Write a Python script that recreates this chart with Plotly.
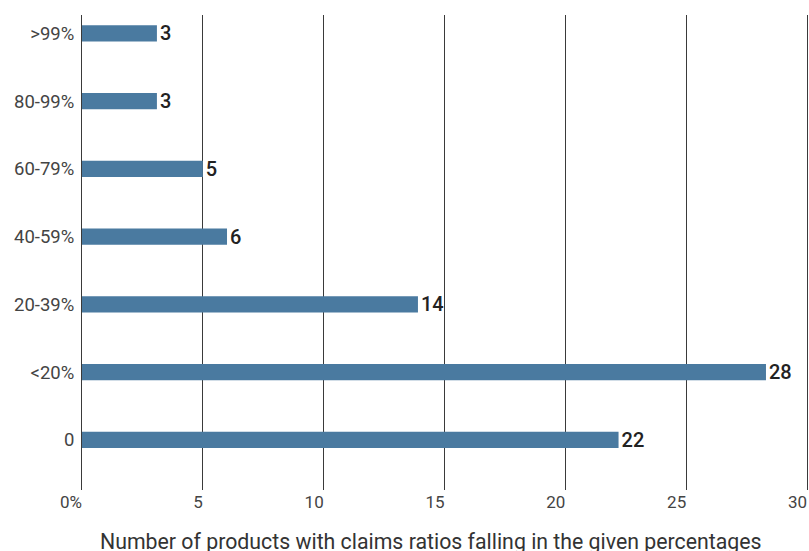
import plotly.graph_objects as go

categories = ["0", "<20%", "20-39%", "40-59%", "60-79%", "80-99%", ">99%"]
values = [22.2, 28.3, 13.9, 6.0, 5.0, 3.1, 3.1]
value_labels = ["22", "28", "14", "6", "5", "3", "3"]
x_tick_vals = [0, 5, 10, 15, 20, 25, 30]
x_tick_text = ["0%", "5", "10", "15", "20", "25", "30"]
x_title = "Number of products with claims ratios falling in the given percentages"

fig = go.Figure(
    go.Bar(
        x=values,
        y=categories,
        orientation="h",
        width=0.24,
        marker=dict(color="#4a7aa0", line=dict(width=0)),
        text=value_labels,
        textposition="outside",
        constraintext="none",
        cliponaxis=False,
        textfont=dict(family="Roboto", size=20, color="#222222", weight=500),
    )
)

fig.update_layout(
    width=809,
    height=551,
    margin=dict(l=82, r=0, t=15, b=61, autoexpand=False),
    plot_bgcolor="white",
    paper_bgcolor="white",
    showlegend=False,
    font=dict(family="Roboto", color="#444444"),
    xaxis=dict(
        range=[0, 30.08],
        tickvals=x_tick_vals,
        ticktext=x_tick_text,
        showgrid=True,
        gridcolor="#3a3a3a",
        gridwidth=1,
        zeroline=False,
        showline=False,
        ticks="",
        automargin=False,
        ticklabelposition="outside left",
        ticklabeloverflow="allow",
        tickfont=dict(size=17, color="#444444"),
    ),
    yaxis=dict(
        categoryorder="array",
        categoryarray=categories,
        range=[-0.74, 6.27],
        showgrid=False,
        zeroline=False,
        showline=True,
        linecolor="#3a3a3a",
        linewidth=1,
        ticks="",
        automargin=False,
        ticklabelstandoff=3,
        tickfont=dict(size=18.5, color="#444444"),
    ),
    annotations=[
        dict(
            text=x_title,
            xref="paper",
            yref="paper",
            x=0.48,
            y=0,
            xanchor="center",
            yanchor="top",
            yshift=-37,
            showarrow=False,
            font=dict(family="Roboto", size=21.3, color="#333333"),
        )
    ],
)

fig.write_html(
    "out.html",
    config={"displayModeBar": False},
    post_script="document.body.style.margin='0';document.body.style.overflow='hidden';",
)
